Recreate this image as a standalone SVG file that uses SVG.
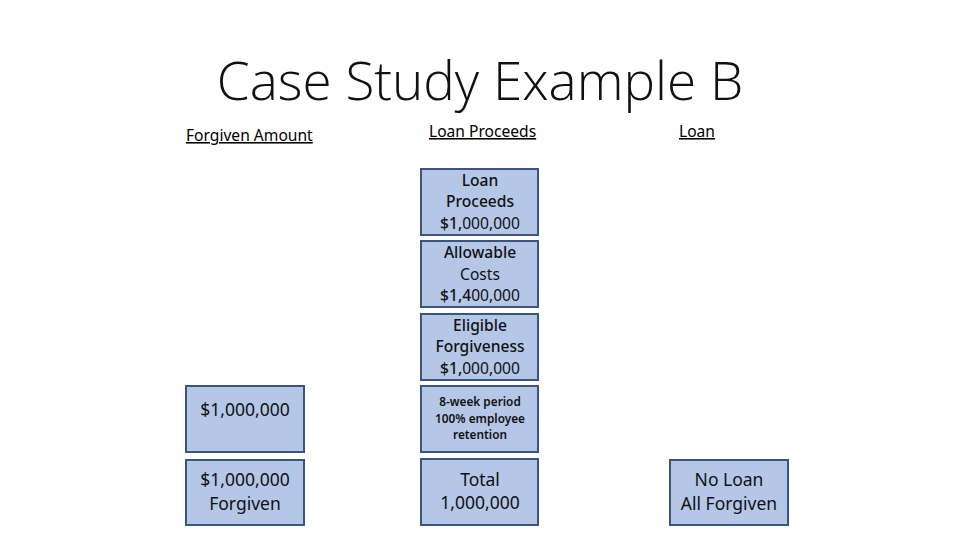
<svg xmlns="http://www.w3.org/2000/svg" width="960" height="540" viewBox="0 0 960 540">
<style>
.box{fill:#b4c7e7;stroke:#3b5580;stroke-width:2}
.t{font-family:"Noto Sans","Open Sans","Liberation Sans",sans-serif;font-size:15.6px;fill:#111;text-anchor:middle}
.b{font-weight:500}
.h{font-family:"Noto Sans","Open Sans","Liberation Sans",sans-serif;font-size:15.6px;fill:#000;text-decoration:underline}
.title{font-family:"Open Sans","Noto Sans","Liberation Sans",sans-serif;font-weight:300;font-size:53px;fill:#111;text-anchor:middle}
.s{font-size:11.8px;font-weight:600}
.l{font-size:17.5px}
</style>
<rect width="960" height="540" fill="#fff"/>
<text class="title" x="480" y="100">Case Study Example B</text>
<text class="h" x="186" y="141">Forgiven Amount</text>
<text class="h" x="429" y="137">Loan Proceeds</text>
<text class="h" x="679" y="137">Loan</text>
<g id="loan-proceeds">
<rect class="box" x="421" y="169" width="117" height="66"/>
<text class="t" x="480" y="186"><tspan class="b">Loan</tspan></text>
<text class="t" x="480" y="207"><tspan class="b">Proceeds</tspan></text>
<text class="t" x="480" y="229"><tspan class="b">$1,</tspan>000,000</text>
</g>
<g id="allowable-costs">
<rect class="box" x="421" y="241" width="117" height="66"/>
<text class="t" x="480" y="258"><tspan class="b">Allowable</tspan></text>
<text class="t" x="480" y="280">Costs</text>
<text class="t" x="480" y="301"><tspan class="b">$1,4</tspan>00,000</text>
</g>
<g id="eligible-forgiveness">
<rect class="box" x="421" y="314" width="117" height="66"/>
<text class="t" x="480" y="331"><tspan class="b">Eligible</tspan></text>
<text class="t" x="480" y="352"><tspan class="b">Forgiveness</tspan></text>
<text class="t" x="480" y="374"><tspan class="b">$1,</tspan>000,000</text>
</g>
<g id="period">
<rect class="box" x="421" y="386" width="117" height="66"/>
<text class="t s" x="480" y="406">8-week period</text>
<text class="t s" x="480" y="423">100% employee</text>
<text class="t s" x="480" y="439">retention</text>
</g>
<g id="total">
<rect class="box" x="421" y="459" width="117" height="66"/>
<text class="t l" x="480" y="486">Total</text>
<text class="t l" x="480" y="509">1,000,000</text>
</g>
<g id="forgiven-amount">
<rect class="box" x="186" y="386" width="118" height="66"/>
<text class="t l" x="245" y="416">$1,000,000</text>
</g>
<g id="forgiven">
<rect class="box" x="186" y="460" width="118" height="65"/>
<text class="t l" x="245" y="486">$1,000,000</text>
<text class="t l" x="245" y="510">Forgiven</text>
</g>
<g id="no-loan">
<rect class="box" x="670" y="460" width="118" height="65"/>
<text class="t l" x="729" y="486">No Loan</text>
<text class="t l" x="729" y="510">All Forgiven</text>
</g>
<g id="connectors"></g>
</svg>
